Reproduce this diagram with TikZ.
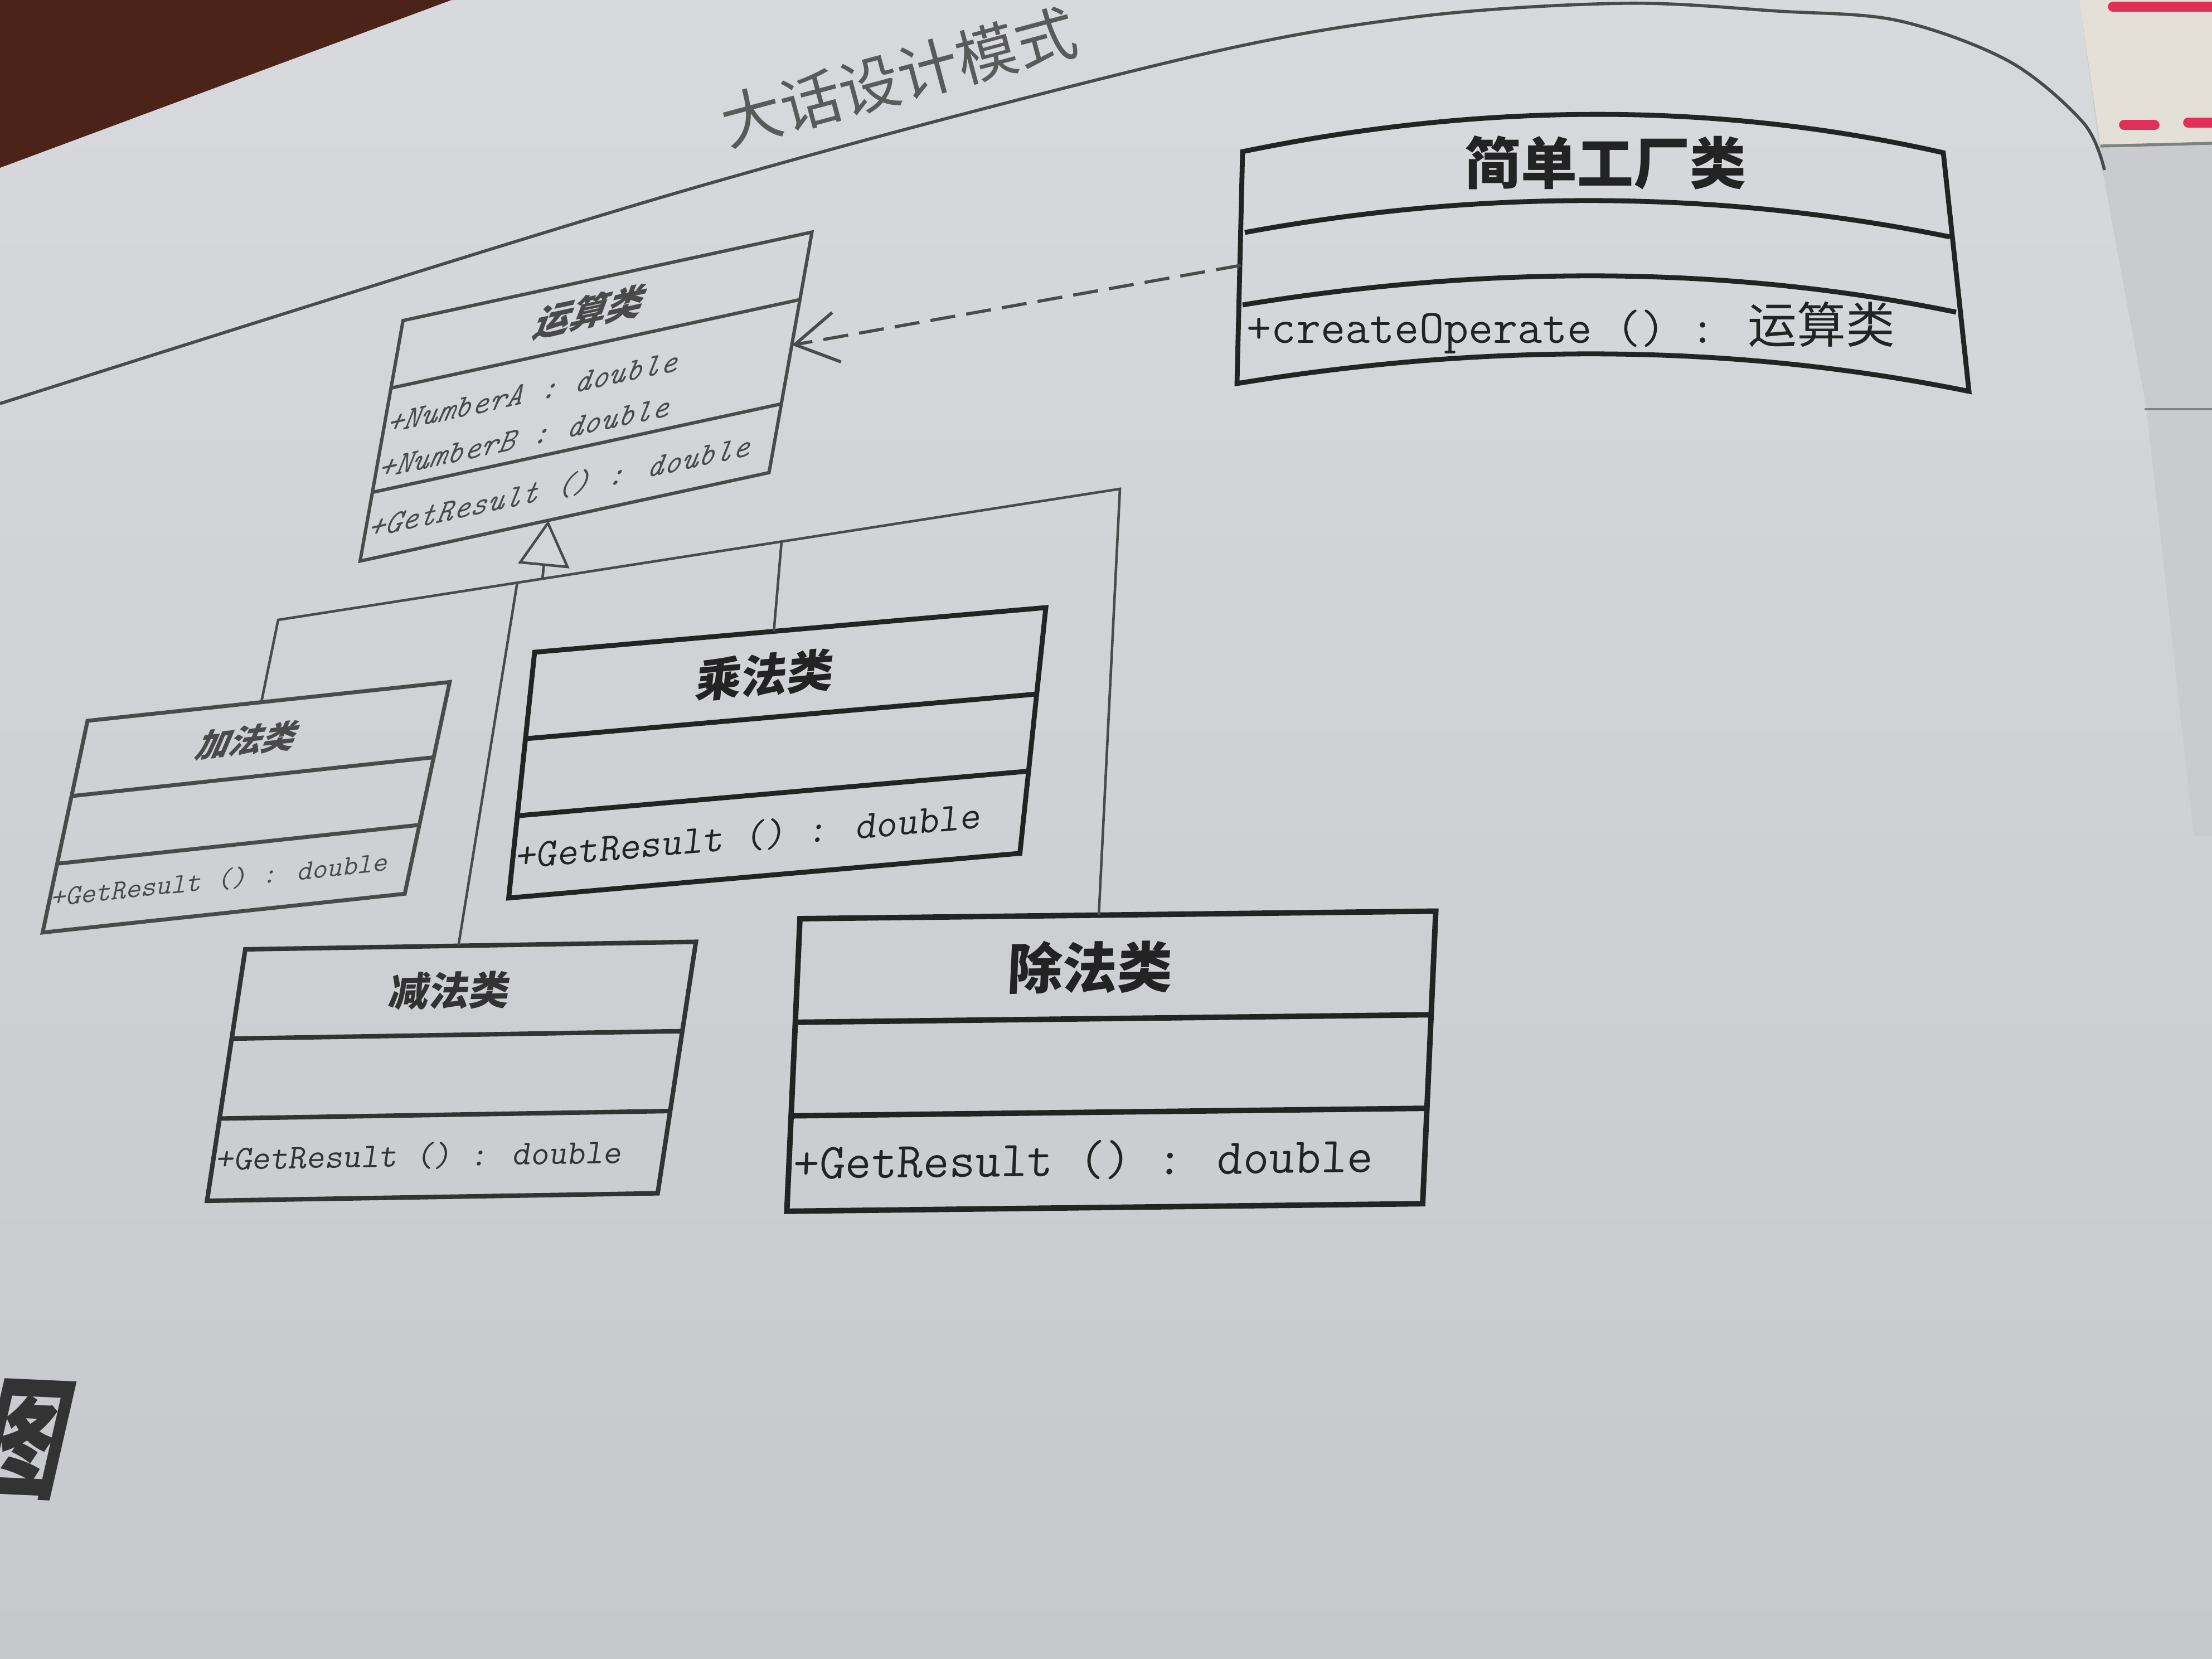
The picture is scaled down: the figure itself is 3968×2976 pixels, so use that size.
\documentclass[tikz,border=0pt]{standalone}
\usepackage{fontspec}
\newfontfamily\cjk{Noto Sans CJK SC}
\newfontfamily\cjksl{Noto Sans CJK SC}[FakeSlant=0.22]
\usetikzlibrary{arrows.meta,calc}
\definecolor{pagetop}{HTML}{D7D9DC}
\definecolor{pagebot}{HTML}{C6C8CC}
\definecolor{pagecol}{HTML}{D3D5D8}
\definecolor{otherpage}{HTML}{CACBCE}
\definecolor{ink}{HTML}{232323}
\definecolor{midink}{HTML}{333333}
\definecolor{softink}{HTML}{4A4A4A}
\definecolor{titleink}{HTML}{5A5A5A}
\definecolor{tablecol}{HTML}{4B2318}
\definecolor{markcol}{HTML}{E0305A}
\definecolor{creamcol}{HTML}{E4E0D8}
\tikzset{
  classbox/.style={draw, inner sep=0pt, outer sep=0pt, anchor=north west},
  link/.style={draw=softink, line width=1.3pt, line join=miter},
  depend/.style={draw=softink, line width=1.6pt, dash pattern=on 4.5mm off 2mm},
  opstext/.style={anchor=west, inner sep=0pt},
}
\begin{document}
\begin{tikzpicture}[x=0.01cm, y=-0.01cm]
\useasboundingbox (0,0) rectangle (3968,2976);
% page and photo surroundings
\shade[top color=pagetop, bottom color=pagebot] (0,0) rectangle (3968,2976);
\fill[tablecol] (0,0) -- (810,0) -- (0,301) -- cycle;
\fill[otherpage] (3730,0) -- (3968,0) -- (3968,1500) -- (3935,1500) -- (3850,730) -- (3773,315) -- cycle;
\fill[creamcol] (3730,0) -- (3968,0) -- (3968,257) -- (3768,262) -- cycle;
\draw[gray, line width=1.5pt] (3768,262) -- (3968,257);
\draw[markcol, line width=5pt, line cap=round] (3790,12) -- (3968,12);
\draw[markcol, line width=5pt, line cap=round] (3810,224) -- (3865,224);
\draw[markcol, line width=5pt, line cap=round] (3925,220) -- (3968,220);
\draw[gray, line width=1.2pt] (3847,734) -- (3968,734);

% running head
\draw[softink, line width=1.6pt] plot[smooth, tension=0.55] coordinates {(0,724) (1200,350) (2095,112) (2526,32) (2908,6) (3190,20) (3405,37) (3604,110) (3737,220) (3775,305)};
\node[rotate=15, text=titleink, font=\cjk\fontsize{31}{31}\selectfont] (title) at (1612,138) {大话设计模式};

% figure mark at the bottom left
\begin{scope}[cm={0.62,-0.028,0.222,0.975,(49,2582)}, transform shape]
  \node[text=midink, font=\cjk\bfseries\fontsize{68}{68}\selectfont] (tu) at (0,0) {图};
\end{scope}

% 运算类
\begin{scope}[cm={0.9775,0.2114,0.1757,0.9845,(723,575)}, transform shape]
  \node[classbox, draw=softink, line width=1.7pt, minimum width=7.5cm, minimum height=4.38cm] (yunsuan) at (0,0) {};
  \draw[softink, line width=1.7pt] (0,123) -- (750,123) (0,313) -- (750,313);
  \node[text=softink, font=\cjksl\bfseries\fontsize{19}{19}\selectfont] (yunsuanname) at (350,60) {运算类};
  \node[opstext, text=softink, font=\ttfamily\itshape\fontsize{17}{17}\selectfont] (numa) at (4,189) {+NumberA : double};
  \node[opstext, text=softink, font=\ttfamily\itshape\fontsize{17}{17}\selectfont] (numb) at (4,272) {+NumberB : double};
  \node[opstext, text=softink, font=\ttfamily\itshape\fontsize{17}{17}\selectfont] (yunsuanop) at (4,380) {+GetResult () : double};
\end{scope}

% 加法类
\begin{scope}[cm={0.9943,0.1064,0.2075,0.9783,(157,1293)}, transform shape]
  \node[classbox, draw=softink, line width=2pt, minimum width=6.53cm, minimum height=3.88cm] (jiafa) at (0,0) {};
  \draw[softink, line width=2pt] (0,138) -- (653,138) (0,262) -- (653,262);
  \node[text=softink, font=\cjksl\bfseries\fontsize{17}{17}\selectfont] (jiafaname) at (300,69) {加法类};
  \node[opstext, text=softink, font=\ttfamily\fontsize{15}{15}\selectfont] (jiafaop) at (4,325) {+GetResult () : double};
\end{scope}

% 乘法类
\begin{scope}[cm={0.9962,0.0870,0.1049,0.9946,(959,1170)}, transform shape]
  \node[classbox, draw=ink, line width=2.5pt, minimum width=9.2cm, minimum height=4.43cm] (chengfa) at (0,0) {};
  \draw[ink, line width=2.5pt] (0,156) -- (920,156) (0,295) -- (920,295);
  \node[text=ink, font=\cjk\bfseries\fontsize{23.5}{23.5}\selectfont] (chengfaname) at (423,78) {乘法类};
  \node[opstext, text=ink, font=\ttfamily\fontsize{20.7}{20.7}\selectfont] (chengfaop) at (6,369) {+GetResult () : double};
\end{scope}

% 减法类
\begin{scope}[cm={0.99986,0.0167,0.1503,0.9886,(440,1703)}, transform shape]
  \node[classbox, draw=midink, line width=2.3pt, minimum width=8.08cm, minimum height=4.56cm] (jianfa) at (0,0) {};
  \draw[midink, line width=2.3pt] (0,162) -- (808,162) (0,307) -- (808,307);
  \node[text=midink, font=\cjk\bfseries\fontsize{20.5}{20.5}\selectfont] (jianfaname) at (380,81) {减法类};
  \node[opstext, text=midink, font=\ttfamily\fontsize{18}{18}\selectfont] (jianfaop) at (6,381) {+GetResult () : double};
\end{scope}

% 除法类
\begin{scope}[cm={0.99993,0.01185,0.0448,0.9990,(1435,1648)}, transform shape]
  \node[classbox, draw=ink, line width=2.8pt, minimum width=11.4cm, minimum height=5.25cm] (chufa) at (0,0) {};
  \draw[ink, line width=2.8pt] (0,186) -- (1140,186) (0,354) -- (1140,354);
  \node[text=ink, font=\cjk\bfseries\fontsize{28}{28}\selectfont] (chufaname) at (525,93) {除法类};
  \node[opstext, text=ink, font=\ttfamily\fontsize{25.7}{25.7}\selectfont] (chufaop) at (8,440) {+GetResult () : double};
\end{scope}

% 简单工厂类 (page curl bends its lines)
\node[minimum width=12.8cm, minimum height=4.6cm, inner sep=0pt, outer sep=0pt] (factory) at (2866,476) {};
\draw[ink, line width=2.5pt, line join=miter]
  (2219,688) -- (2229,272) .. controls (2665,182) and (3085,183) .. (3486,274)
  -- (3532,702) .. controls (3114,617) and (2676,613) .. (2219,688) -- cycle;
\draw[ink, line width=2.5pt] (2233,417) .. controls (2662,338) and (3084,341) .. (3498,425);
\draw[ink, line width=2.5pt] (2229,547) .. controls (2684,473) and (3110,478) .. (3509,560);
\node[text=ink, font=\cjk\bfseries\fontsize{28.7}{28.7}\selectfont] (factoryname) at (2880,292) {简单工厂类};
\node[opstext, text=ink] (factoryop) at (2236,588) {{\ttfamily\fontsize{24.4}{24.4}\selectfont +createOperate () : }{\cjk\fontsize{25}{25}\selectfont 运算类}};

% generalization tree
\coordinate (jL) at (499,1112);
\coordinate (jR) at (2009,877);
\draw[link] ($(jiafa.north west)!0.48!(jiafa.north east)$) -- (jL) -- (jR) -- ($(chufa.north west)!0.47!(chufa.north east)$);
\draw[link] ($(jL)!0.284!(jR)$) -- ($(jianfa.north west)!0.473!(jianfa.north east)$);
\draw[link] ($(jL)!0.598!(jR)$) -- ($(chengfa.north west)!0.468!(chengfa.north east)$);
\draw[link, -{Triangle[length=8.2mm, width=9.2mm, fill=pagecol]}] ($(jL)!0.314!(jR)$) -- ($(yunsuan.south west)!0.46!(yunsuan.south east)$);

% dependency
\draw[depend, -{Straight Barb[length=7.6mm, width=9mm]}] (factory.west) -- ($(yunsuan.north east)!0.47!(yunsuan.south east)$);
\end{tikzpicture}
\end{document}
